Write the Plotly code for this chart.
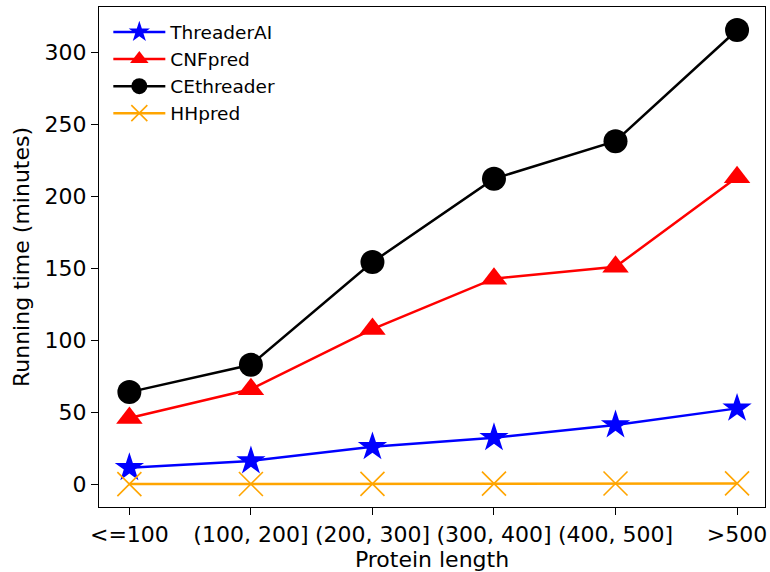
import plotly.graph_objects as go

categories = ["<=100", "(100, 200]", "(200, 300]", "(300, 400]", "(400, 500]", ">500"]
threaderai = [11.5, 16.2, 26.0, 32.3, 41.2, 52.7]
cnfpred = [46.0, 66.0, 107.8, 142.8, 151.0, 213.2]
cethreader = [64.0, 83.0, 154.3, 212.2, 238.3, 315.5]
hhpred = [0.1, 0.2, 0.3, 0.4, 0.5, 0.6]

xs = list(range(len(categories)))

fig = go.Figure()
series = [
    ("ThreaderAI", threaderai, "#0000ff", "star", 22),
    ("CNFpred", cnfpred, "#ff0000", "triangle-up", 23),
    ("CEthreader", cethreader, "#000000", "circle", 24),
    ("HHpred", hhpred, "#ffa500", "x-thin", 24),
]
for i, (name, vals, color, sym, size) in enumerate(series):
    marker = dict(symbol=sym, size=size, color=color)
    if sym == "x-thin":
        marker["line"] = dict(color=color, width=1.6)
    else:
        marker["line"] = dict(width=0)
    fig.add_trace(go.Scatter(
        x=xs, y=vals, name=name, mode="lines+markers",
        line=dict(color=color, width=2.5), marker=marker,
        legendgroup=f"g{i}",
    ))

fig.update_layout(
    width=770, height=572,
    margin=dict(l=99, r=3, t=7, b=65),
    paper_bgcolor="white", plot_bgcolor="white",
    font=dict(family="DejaVu Sans", size=22, color="black"),
    showlegend=True,
    legend=dict(
        x=0.014, y=0.987, xanchor="left", yanchor="top",
        font=dict(size=18.5), bgcolor="rgba(255,255,255,0)",
        traceorder="grouped", tracegroupgap=0, itemwidth=52,
    ),
)
fig.update_xaxes(
    range=[-0.25, 5.23], tickmode="array", tickvals=xs, ticktext=categories,
    showline=True, linecolor="black", linewidth=1.3, mirror=True,
    ticks="outside", ticklen=7, tickcolor="black", tickwidth=1.3,
    showgrid=False, zeroline=False, tickangle=0,
    title=dict(text="Protein length", font=dict(size=22), standoff=6),
)
fig.update_yaxes(
    range=[-15.8, 331.5], tickmode="array", tickvals=[0, 50, 100, 150, 200, 250, 300],
    showline=True, linecolor="black", linewidth=1.3, mirror=True,
    ticks="outside", ticklen=7, tickcolor="black", tickwidth=1.3,
    showgrid=False, zeroline=False,
    title=dict(text="Running time (minutes)", font=dict(size=22), standoff=8),
)

# remove the page's default 8px body margin so the figure fills the window
fig.write_html(
    "out.html",
    config={"displayModeBar": False},
    post_script="document.body.style.margin='0';document.body.style.overflow='hidden';",
)
